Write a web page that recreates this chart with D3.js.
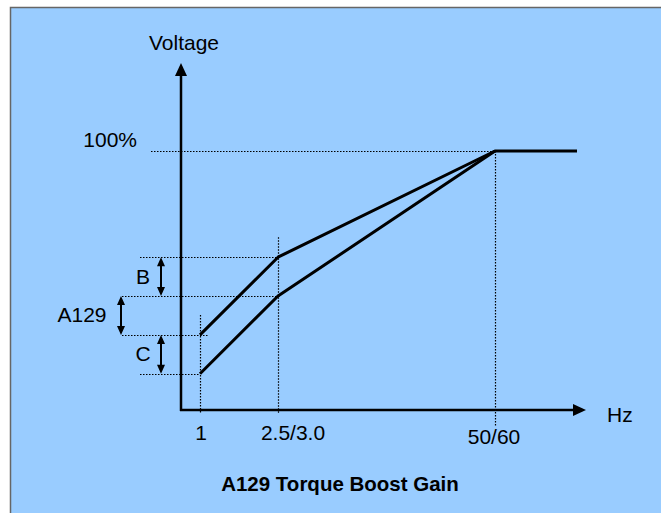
<!DOCTYPE html>
<html>
<head>
<meta charset="utf-8">
<script src="https://cdn.jsdelivr.net/npm/d3@7"></script>
<style>
  body { margin: 0; background: #fff; }
  text { font-family: "Liberation Sans", Arial, sans-serif; fill: #000; }
</style>
</head>
<body>
<svg id="chart"></svg>
<script>
const width = 661;
const height = 513;

// data (Hz on the x axis, % voltage on the y axis)
const hzTicks = [1, 2.5, 50];
const hzLabels = ["1", "2.5/3.0", "50/60"];
const upperBoost = [[1, 29], [2.5, 59], [50, 100], [70, 100]];
const lowerBoost = [[1, 14], [2.5, 44], [50, 100]];
const levels = [100, 59, 44, 29, 14];
const brackets = ["B", "A129", "C"];
const bracketFrom = [44, 29, 14];
const bracketTo = [59, 44, 29];

// the Hz axis is not to scale, so break it at the marked points
const xScale = d3.scaleLinear()
  .domain([0, 1, 2.5, 50, 70, 72])
  .range([181, 200, 278, 495, 577, 586]);

const yScale = d3.scaleLinear()
  .domain([0, 100])
  .range([410, 151]);

const svg = d3.select("#chart")
    .attr("width", width)
    .attr("height", height);

// panel
svg.append("rect")
    .attr("x", 10)
    .attr("y", 7)
    .attr("width", width)
    .attr("height", height)
    .attr("fill", "#99ccff");

svg.append("path")
    .attr("d", `M10.5,${height} V7.5 H${width}`)
    .attr("fill", "none")
    .attr("stroke", "#666")
    .attr("stroke-width", 1.5);

// dotted guides
const guideLeft = { 100: 151, 59: 140, 44: 122, 29: 122, 14: 140 };
const guideRight = { 100: 50, 59: 2.7, 44: 2.9, 29: 1.15, 14: 1 };

svg.append("g")
  .selectAll("line")
  .data(levels)
  .enter()
  .append("line")
    .attr("x1", d => guideLeft[d])
    .attr("x2", d => xScale(guideRight[d]))
    .attr("y1", d => Math.round(yScale(d)) + 0.5)
    .attr("y2", d => Math.round(yScale(d)) + 0.5)
    .attr("stroke", "#000")
    .attr("stroke-width", 1.2)
    .attr("stroke-dasharray", "1.5,1.5");

const vGuideTop = { 1: 20, 2.5: 20, 50: 0 };
const vGuideBottom = { 1: 413, 2.5: 413, 50: 426 };

svg.append("g")
  .selectAll("line")
  .data(hzTicks)
  .enter()
  .append("line")
    .attr("x1", d => Math.round(xScale(d)) + 0.5)
    .attr("x2", d => Math.round(xScale(d)) + 0.5)
    .attr("y1", d => {
      const top = upperBoost.find(p => p[0] === d)[1];
      return yScale(top) - vGuideTop[d];
    })
    .attr("y2", d => vGuideBottom[d])
    .attr("stroke", "#000")
    .attr("stroke-width", 1.2)
    .attr("stroke-dasharray", "1.5,1.5");

// axes
const x0 = xScale(0);
const y0 = yScale(0);

svg.append("line")
    .attr("x1", x0).attr("y1", y0 + 1)
    .attr("x2", x0).attr("y2", 74)
    .attr("stroke", "#000")
    .attr("stroke-width", 2.5);

svg.append("line")
    .attr("x1", x0 - 1).attr("y1", y0)
    .attr("x2", xScale(72) - 12).attr("y2", y0)
    .attr("stroke", "#000")
    .attr("stroke-width", 2.5);

svg.append("path")
    .attr("d", `M${x0},63 L${x0 - 6},76 L${x0 + 6},76 Z`)
    .attr("fill", "#000");

svg.append("path")
    .attr("d", `M${xScale(72)},${y0} L${xScale(72) - 13},${y0 - 6} L${xScale(72) - 13},${y0 + 6} Z`)
    .attr("fill", "#000");

// boost lines
const line = d3.line()
  .x(d => xScale(d[0]))
  .y(d => yScale(d[1]));

svg.append("g")
  .selectAll("path")
  .data([upperBoost, lowerBoost])
  .enter()
  .append("path")
    .attr("d", line)
    .attr("fill", "none")
    .attr("stroke", "#000")
    .attr("stroke-width", 3)
    .attr("stroke-linejoin", "round");

// double arrows for B, A129, C
const bracketX = [161, 121, 161];
const bracketLabelX = [143, 82, 143];

brackets.forEach((name, i) => {
  const x = bracketX[i];
  const yTop = yScale(bracketTo[i]);
  const yBot = yScale(bracketFrom[i]);
  svg.append("line")
      .attr("x1", x).attr("x2", x)
      .attr("y1", yTop + 6).attr("y2", yBot - 6)
      .attr("stroke", "#000")
      .attr("stroke-width", 2);
  svg.append("path")
      .attr("d", `M${x},${yTop} L${x - 4},${yTop + 9} L${x + 4},${yTop + 9} Z
                  M${x},${yBot} L${x - 4},${yBot - 9} L${x + 4},${yBot - 9} Z`)
      .attr("fill", "#000");
  svg.append("text")
      .attr("x", bracketLabelX[i])
      .attr("y", (yTop + yBot) / 2 + 7)
      .style("text-anchor", "middle")
      .style("font-size", "21px")
      .text(name);
});

// labels
svg.append("text")
    .attr("x", 184)
    .attr("y", 50)
    .style("text-anchor", "middle")
    .style("font-size", "21px")
    .text("Voltage");

svg.append("text")
    .attr("x", 137)
    .attr("y", yScale(100) - 4)
    .style("text-anchor", "end")
    .style("font-size", "21px")
    .text("100%");

svg.append("text")
    .attr("x", 607)
    .attr("y", 422)
    .style("font-size", "21px")
    .text("Hz");

const tickDx = [1, 15, -1];
const tickY = [440, 440, 444];

svg.append("g")
  .selectAll("text")
  .data(hzTicks)
  .enter()
  .append("text")
    .attr("x", (d, i) => xScale(d) + tickDx[i])
    .attr("y", (d, i) => tickY[i])
    .style("text-anchor", "middle")
    .style("font-size", "21px")
    .text((d, i) => hzLabels[i]);

svg.append("text")
    .attr("x", 340)
    .attr("y", 491)
    .style("text-anchor", "middle")
    .style("font-size", "20.5px")
    .style("font-weight", "bold")
    .text("A129 Torque Boost Gain");
</script>
</body>
</html>
